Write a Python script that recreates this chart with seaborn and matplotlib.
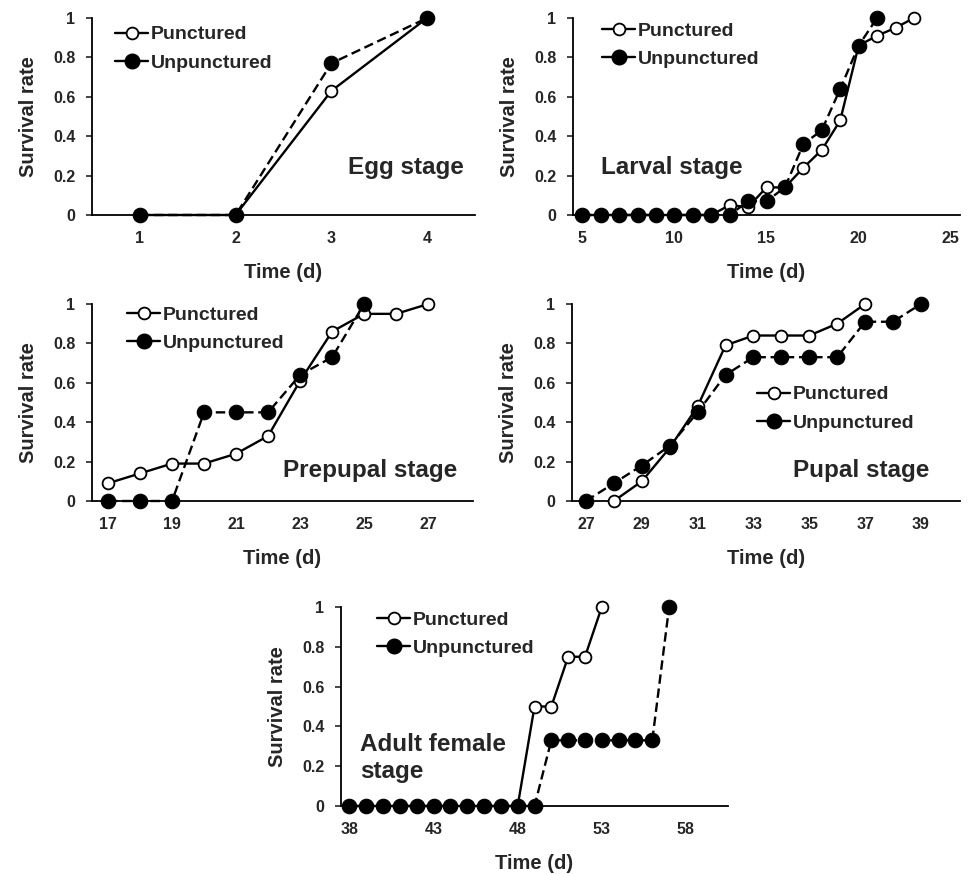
import numpy as np
import pandas as pd
import matplotlib
matplotlib.use("Agg")
import matplotlib.pyplot as plt
from matplotlib.lines import Line2D
import seaborn as sns

# Survival data (Punctured vs Unpunctured)
egg_days_p = [1, 2, 3, 4]
egg_p = [0, 0, 0.63, 1.0]
egg_days_u = [1, 2, 3, 4]
egg_u = [0, 0, 0.77, 1.0]

larva_days_p = list(range(5, 24))
larva_p = [0, 0, 0, 0, 0, 0, 0, 0, 0.05, 0.04, 0.14, 0.14, 0.24, 0.33, 0.48, 0.86, 0.91, 0.95, 1.0]
larva_days_u = list(range(5, 22))
larva_u = [0, 0, 0, 0, 0, 0, 0, 0, 0, 0.07, 0.07, 0.14, 0.36, 0.43, 0.64, 0.86, 1.0]

prep_days_p = list(range(17, 28))
prep_p = [0.09, 0.14, 0.19, 0.19, 0.24, 0.33, 0.61, 0.86, 0.95, 0.95, 1.0]
prep_days_u = list(range(17, 26))
prep_u = [0, 0, 0, 0.45, 0.45, 0.45, 0.64, 0.73, 1.0]

pupa_days_p = list(range(28, 38))
pupa_p = [0, 0.10, 0.27, 0.48, 0.79, 0.84, 0.84, 0.84, 0.90, 1.0]
pupa_days_u = list(range(27, 40))
pupa_u = [0, 0.09, 0.18, 0.28, 0.45, 0.64, 0.73, 0.73, 0.73, 0.73, 0.91, 0.91, 1.0]

adult_days_p = list(range(38, 54))
adult_p = [0] * 11 + [0.5, 0.5, 0.75, 0.75, 1.0]
adult_days_u = list(range(38, 58))
adult_u = [0] * 12 + [0.33] * 7 + [1.0]

sns.set_style("white")
plt.rcParams["font.family"] = ["Liberation Sans", "DejaVu Sans"]
plt.rcParams["font.weight"] = "bold"

W, H = 974, 874
fig = plt.figure(figsize=(W / 100, H / 100), dpi=100)


def make_ax(left, top, right, bottom):
    return fig.add_axes([left / W, 1 - bottom / H, (right - left) / W, (bottom - top) / H])


def draw_panel(ax, dp, vp, du, vu, xlim, xticks, stage, stage_xy, stage_ha, leg_xy):
    df_p = pd.DataFrame({"Time": dp, "Survival": vp})
    df_u = pd.DataFrame({"Time": du, "Survival": vu})
    sns.lineplot(data=df_p, x="Time", y="Survival", ax=ax, color="black", lw=1.7,
                 marker="o", markersize=8.5, markerfacecolor="white", markeredgecolor="black",
                 markeredgewidth=1.3, estimator=None, clip_on=False, zorder=3)
    sns.lineplot(data=df_u, x="Time", y="Survival", ax=ax, color="black", lw=1.7,
                 linestyle=(0, (4, 2)), marker="o", markersize=10.5, markerfacecolor="black",
                 markeredgecolor="black", estimator=None, clip_on=False, zorder=4)
    ax.set_xlim(*xlim)
    ax.set_ylim(0, 1)
    ax.set_xticks(xticks)
    ax.set_yticks([0, 0.2, 0.4, 0.6, 0.8, 1.0])
    ax.set_yticklabels(["0", "0.2", "0.4", "0.6", "0.8", "1"])
    for s in ["top", "right"]:
        ax.spines[s].set_visible(False)
    for s in ["left", "bottom"]:
        ax.spines[s].set_color("black")
        ax.spines[s].set_linewidth(1.3)
    ax.tick_params(axis="y", left=True, length=4, width=1.2, labelsize=11.5, pad=8)
    ax.tick_params(axis="x", bottom=False, labelsize=11.5, pad=8)
    for t in ax.get_xticklabels() + ax.get_yticklabels():
        t.set_fontweight("bold")
    ax.set_xlabel("Time (d)", fontsize=14.5, fontweight="bold", labelpad=12)
    ax.set_ylabel("Survival rate", fontsize=14.5, fontweight="bold", labelpad=11)
    ax.text(stage_xy[0], stage_xy[1], stage, transform=ax.transAxes, fontsize=17.5,
            fontweight="bold", ha=stage_ha, va="center")
    handles = [
        Line2D([], [], color="black", lw=1.7, marker="o", markersize=8.5,
               markerfacecolor="white", markeredgewidth=1.3),
        Line2D([], [], color="black", lw=1.7, marker="o", markersize=10.5,
               markerfacecolor="black"),
    ]
    ax.legend(handles, ["Punctured", "Unpunctured"], loc="upper left",
              bbox_to_anchor=leg_xy, frameon=False, borderpad=0, borderaxespad=0,
              handlelength=1.7, handletextpad=0.15, labelspacing=0.55,
              prop={"size": 14, "weight": "bold"})


ax1 = make_ax(92, 18, 475, 215)
draw_panel(ax1, egg_days_p, egg_p, egg_days_u, egg_u, (0.5, 4.5), [1, 2, 3, 4],
           "Egg stage", (0.82, 0.24), "center", (0.06, 0.96))

ax2 = make_ax(573, 18, 960, 215)
draw_panel(ax2, larva_days_p, larva_p, larva_days_u, larva_u, (4.5, 25.5), [5, 10, 15, 20, 25],
           "Larval stage", (0.256, 0.24), "center", (0.075, 0.98))

ax3 = make_ax(92, 304, 473, 501)
draw_panel(ax3, prep_days_p, prep_p, prep_days_u, prep_u, (16.5, 28.4), [17, 19, 21, 23, 25, 27],
           "Prepupal stage", (0.73, 0.157), "center", (0.092, 0.99))

ax4 = make_ax(572, 304, 960, 501)
draw_panel(ax4, pupa_days_p, pupa_p, pupa_days_u, pupa_u, (26.5, 40.4), [27, 29, 31, 33, 35, 37, 39],
           "Pupal stage", (0.745, 0.157), "center", (0.477, 0.585))

ax5 = make_ax(341, 607, 728, 806)
draw_panel(ax5, adult_days_p, adult_p, adult_days_u, adult_u, (37.5, 60.5), [38, 43, 48, 53, 58],
           "Adult female\nstage", (0.05, 0.24), "left", (0.093, 0.98))

plt.savefig("out.png", dpi=100)
